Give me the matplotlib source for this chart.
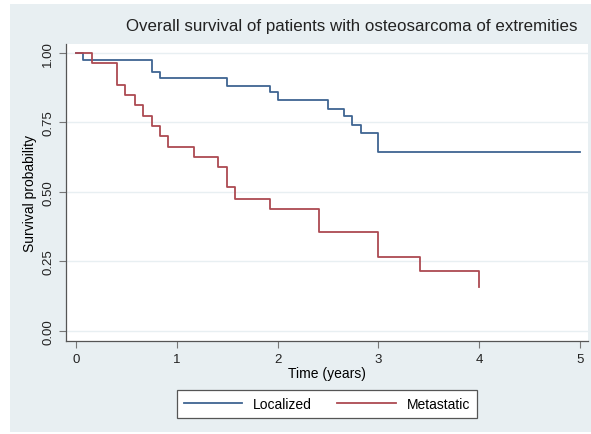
import matplotlib.pyplot as plt
from matplotlib.patches import Rectangle

# Kaplan-Meier steps
loc_time = [0, 0.07, 0.75, 0.83, 1.50, 1.92, 2.00, 2.50, 2.66, 2.74, 2.83, 3.00, 5.00]
loc_surv = [1.0, 0.976, 0.932, 0.909, 0.881, 0.859, 0.831, 0.800, 0.772, 0.742, 0.711, 0.643, 0.643]

met_time = [0, 0.16, 0.41, 0.49, 0.58, 0.66, 0.75, 0.83, 0.91, 1.17, 1.41, 1.50, 1.58, 1.92, 2.41, 3.00, 3.41, 4.00]
met_surv = [1.0, 0.963, 0.886, 0.849, 0.812, 0.774, 0.738, 0.701, 0.663, 0.627, 0.591, 0.517, 0.475, 0.438, 0.357, 0.266, 0.215, 0.157]

x_ticks = [0, 1, 2, 3, 4, 5]
y_ticks = [0.0, 0.25, 0.5, 0.75, 1.0]
y_labels = ['0.00', '0.25', '0.50', '0.75', '1.00']

bg = '#e8eff2'
blue = '#3f6592'
red = '#ad4a52'

plt.rcParams['font.family'] = ['Liberation Sans', 'DejaVu Sans']

fig = plt.figure(figsize=(5.91, 4.35), dpi=100, facecolor='white')
fig.patches.append(Rectangle((10 / 591, 2 / 435), 1, 1 - 7 / 435, transform=fig.transFigure,
                             facecolor=bg, edgecolor='none', zorder=-10))

ax = fig.add_axes([66 / 591, 1 - 342 / 435, 522 / 591, 297 / 435])
ax.set_facecolor('white')

# metastatic curve ends with a drop at the last time point
ax.step(loc_time, loc_surv, where='post', color=blue, lw=1.3, label='Localized')
ax.step(met_time[:-1] + [met_time[-1], met_time[-1]], met_surv[:-1] + [met_surv[-2], met_surv[-1]],
        where='post', color=red, lw=1.3, label='Metastatic')

ax.set_xlim(-0.10, 5.08)
ax.set_ylim(-0.036, 1.032)
ax.set_xticks(x_ticks)
ax.set_yticks(y_ticks)
ax.set_yticklabels(y_labels, rotation=90, va='center')
ax.grid(axis='y', color=bg, lw=1.0)
ax.set_axisbelow(True)

for s in ['top', 'right']:
    ax.spines[s].set_visible(False)
for s in ['left', 'bottom']:
    ax.spines[s].set_color('#555555')
    ax.spines[s].set_linewidth(0.9)
ax.tick_params(direction='out', length=5, width=0.8, color='#777777', labelsize=9.5, labelcolor='#222222')

ax.set_xlabel('Time (years)', fontsize=10, labelpad=1)
ax.set_ylabel('Survival probability', fontsize=10, labelpad=4)

fig.text(578 / 591, 1 - 27 / 435, 'Overall survival of patients with osteosarcoma of extremities',
         ha='right', va='center', fontsize=12.2, color='#222222')

leg = fig.legend(loc='center', bbox_to_anchor=(327 / 591, 1 - 405 / 435), ncol=2, frameon=True,
                 fontsize=10, fancybox=False, edgecolor='#555555', facecolor='white', framealpha=1,
                 handlelength=4.2, columnspacing=1.8, borderpad=0.5)
leg.get_frame().set_linewidth(0.9)

fig.savefig('out.png', dpi=100, facecolor=fig.get_facecolor())
